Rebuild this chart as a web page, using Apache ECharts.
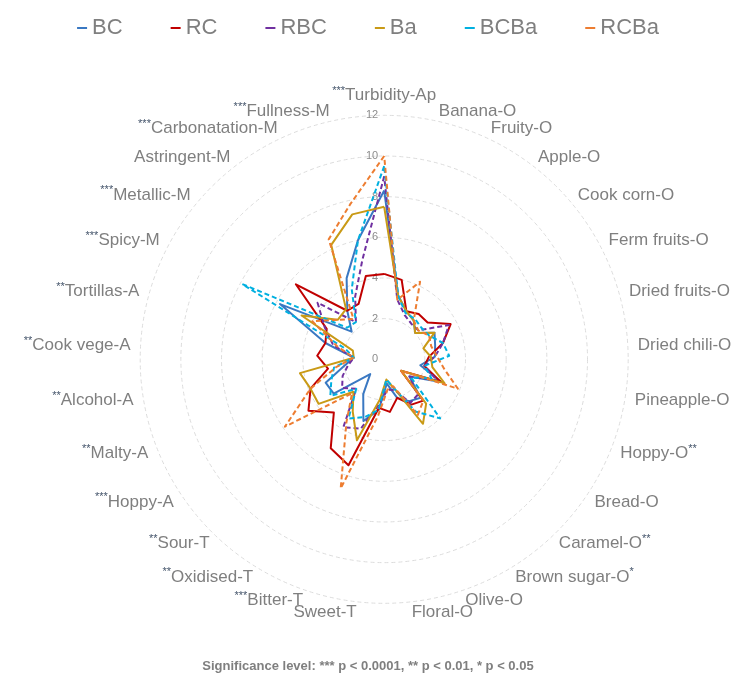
<!DOCTYPE html>
<html>
<head>
<meta charset="utf-8">
<script src="https://cdn.jsdelivr.net/npm/echarts@6/dist/echarts.min.js"></script>
<style>
  html, body { margin: 0; padding: 0; background: #fff; }
  #radar { width: 736px; height: 691px; }
</style>
</head>
<body>
<div id="radar"></div>
<script>
// attributes, clockwise from the top
var attributes = ['Turbidity-Ap', 'Banana-O', 'Fruity-O', 'Apple-O', 'Cook corn-O', 'Ferm fruits-O',
  'Dried fruits-O', 'Dried chili-O', 'Pineapple-O', 'Hoppy-O', 'Bread-O', 'Caramel-O', 'Brown sugar-O',
  'Olive-O', 'Floral-O', 'Sweet-T', 'Bitter-T', 'Oxidised-T', 'Sour-T', 'Hoppy-A', 'Malty-A', 'Alcohol-A',
  'Cook vege-A', 'Tortillas-A', 'Spicy-M', 'Metallic-M', 'Astringent-M', 'Carbonatation-M', 'Fullness-M'];
var stars = ['***', '', '', '', '', '', '', '', '', '**', '', '**', '*', '', '', '', '***', '**', '**',
  '***', '**', '**', '**', '**', '***', '***', '', '***', '***'];

var BC   = [8.3, 3.2, 2.6, 2.4, 2.0, 2.8, 2.6, 2.5, 1.8, 3.0, 1.5, 2.6, 2.4, 2.0, 1.2, 2.5, 3.2, 2.0, 1.0, 3.0, 3.1, 2.0, 1.5, 3.0, 5.8, 2.1, 3.0, 4.4, 6.0];
var RC   = [4.2, 4.0, 2.6, 2.8, 2.8, 3.7, 3.0, 2.2, 2.0, 3.0, 1.0, 2.8, 2.6, 2.0, 2.6, 2.4, 5.5, 5.1, 3.6, 4.5, 3.9, 2.8, 3.3, 3.0, 3.2, 5.7, 3.0, 3.0, 4.2];
var RBC  = [9.0, 3.0, 2.4, 2.2, 2.2, 3.6, 3.0, 2.5, 2.0, 2.8, 1.5, 2.4, 2.5, 1.6, 1.5, 2.2, 3.6, 3.9, 2.0, 2.5, 2.2, 1.8, 1.5, 2.6, 3.3, 4.3, 2.3, 3.4, 5.0];
var Ba   = [7.5, 3.2, 2.6, 2.4, 2.0, 2.8, 2.0, 2.3, 2.4, 3.2, 1.0, 3.0, 3.7, 1.5, 1.0, 2.0, 4.2, 3.0, 2.2, 3.9, 3.9, 4.2, 1.5, 1.6, 4.6, 3.0, 3.1, 6.2, 7.3];
var BCBa = [9.5, 3.2, 2.5, 2.5, 2.4, 2.5, 3.0, 3.2, 2.0, 2.5, 1.6, 4.0, 3.0, 1.5, 1.0, 2.5, 3.0, 3.4, 2.0, 3.2, 2.8, 2.5, 1.5, 2.0, 7.9, 2.4, 2.3, 3.8, 6.0];
var RCBa = [10, 3.0, 4.2, 2.4, 2.2, 2.5, 2.4, 2.6, 3.0, 3.9, 1.0, 2.8, 3.2, 1.4, 1.5, 2.8, 6.7, 3.6, 2.3, 5.9, 3.9, 2.4, 1.5, 2.4, 4.0, 3.0, 2.5, 6.5, 7.8];

// echarts lays radar indicators out counter-clockwise, so flip everything after the first one
function clockwise(arr) {
  return [arr[0]].concat(arr.slice(1).reverse());
}

var chart = echarts.init(document.getElementById('radar'));

var indicator = clockwise(attributes).map(function (name) {
  return { name: name, min: 0, max: 12 };
});

function makeSeries(name, values, color, dashed) {
  return {
    name: name,
    type: 'radar',
    symbol: 'none',
    data: [{ value: clockwise(values), name: name }],
    lineStyle: { color: color, width: 2, type: dashed ? [5, 3] : 'solid' },
    itemStyle: { color: color }
  };
}

var option = {
  color: ['#3a78c2', '#c00000', '#7030a0', '#c99a16', '#00b0e0', '#ed7d31'],
  legend: {
    top: 12,
    left: 'center',
    icon: 'rect',
    itemWidth: 10,
    itemHeight: 2,
    itemGap: 48,
    textStyle: { color: '#7f7f7f', fontSize: 22, fontFamily: 'Liberation Sans' },
    data: ['BC', 'RC', 'RBC', 'Ba', 'BCBa', 'RCBa']
  },
  title: {
    text: 'Significance level: *** p < 0.0001, ** p < 0.01, * p < 0.05',
    left: 'center',
    top: 655,
    textStyle: { color: '#7f7f7f', fontSize: 13, fontWeight: 'bold', fontFamily: 'Liberation Sans' }
  },
  radar: {
    center: ['52.2%', '52%'],
    radius: 244,
    startAngle: 90,
    shape: 'circle',
    splitNumber: 6,
    indicator: indicator,
    axisName: {
      color: '#7f7f7f',
      fontSize: 17,
      fontFamily: 'Liberation Sans',
      formatter: function (name) {
        var i = attributes.indexOf(name);
        var s = stars[i];
        if (!s) return '{n|' + name + '}';
        if (i >= 1 && i <= 14) return '{n|' + name + '}{s|' + s + '}';
        return '{s|' + s + '}{n|' + name + '}';
      },
      rich: {
        n: { color: '#7f7f7f', fontSize: 17, fontFamily: 'Liberation Sans', lineHeight: 20 },
        s: { color: '#44546a', fontSize: 11, fontFamily: 'Liberation Sans', verticalAlign: 'top', lineHeight: 20 }
      }
    },
    nameGap: 10,
    axisLine: { show: false },
    axisTick: { show: false },
    splitArea: { show: false },
    splitLine: { lineStyle: { color: '#dcdcdc', type: [4, 3], width: 1 } }
  },
  polar: {
    center: ['52.2%', '52%'],
    radius: 244
  },
  angleAxis: { show: false, min: 0, max: 360, startAngle: 90 },
  radiusAxis: {
    min: 0,
    max: 12,
    interval: 2,
    axisLine: { show: false },
    axisTick: { show: false },
    splitLine: { show: false },
    axisLabel: { color: '#8c8c8c', fontSize: 11, fontFamily: 'Liberation Sans', margin: 6 }
  },
  series: [
    makeSeries('BC', BC, '#3a78c2', false),
    makeSeries('RC', RC, '#c00000', false),
    makeSeries('RBC', RBC, '#7030a0', true),
    makeSeries('Ba', Ba, '#c99a16', false),
    makeSeries('BCBa', BCBa, '#00b0e0', true),
    makeSeries('RCBa', RCBa, '#ed7d31', true)
  ]
};

chart.setOption(option);
</script>
</body>
</html>
